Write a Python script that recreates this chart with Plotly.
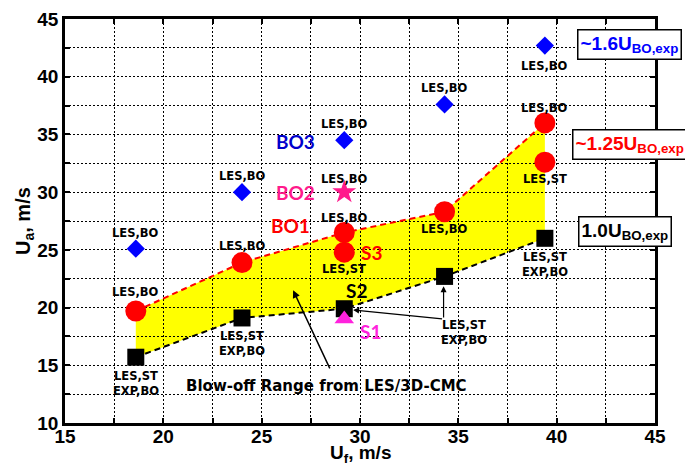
import plotly.graph_objects as go

# ---- data ----
uf_cases = [18.6, 24.0, 29.2, 34.3, 39.4]
ua_exp_bo = [15.7, 19.1, 19.9, 22.7, 26.0]          # black squares, 1.0 U_BO,exp
ua_les_bo_125 = [19.7, 23.9, 26.5, 28.3, 36.0]       # red circles (upper range)
uf_les_st_red = [29.2, 39.4]
ua_les_st_red = [24.8, 32.6]                         # red circles (stable)
ua_les_bo_16 = [25.1, 30.0, 34.5, 37.6, 42.7]        # blue diamonds
uf_bo2 = [29.2]
ua_bo2 = [30.0]                                      # pink star
uf_s1 = [29.2]
ua_s1 = [19.0]                                       # magenta triangle

x_ticks = [15, 17.5, 20, 22.5, 25, 27.5, 30, 32.5, 35, 37.5, 40, 42.5, 45]
x_ticktext = ["15", " ", "20", " ", "25", " ", "30", " ", "35", " ", "40", " ", "45"]
y_ticks = [10, 12.5, 15, 17.5, 20, 22.5, 25, 27.5, 30, 32.5, 35, 37.5, 40, 42.5, 45]
y_ticktext = ["10", " ", "15", " ", "20", " ", "25", " ", "30", " ", "35", " ", "40", " ", "45"]

RED = "#ff0000"
BLUE = "#0000ff"
PINK = "#ff1a8c"
MAGENTA = "#ff22dd"
LBL = dict(family="DejaVu Sans", size=11.5, color="black", weight="bold")
BIG = "Lato"

fig = go.Figure()

# yellow range polygon (upper red line then lower black line reversed)
px = uf_cases + uf_cases[::-1]
py = ua_les_bo_125 + ua_exp_bo[::-1]
path = "M " + " L ".join(f"{a},{b}" for a, b in zip(px, py)) + " Z"
fig.add_shape(type="path", path=path, xref="x", yref="y", fillcolor="#ffff00",
              line=dict(width=0), layer="below")

fig.add_trace(go.Scatter(x=uf_cases, y=ua_les_bo_125, mode="lines",
                         line=dict(color=RED, width=2, dash="6px,4px"), showlegend=False))
fig.add_trace(go.Scatter(x=uf_cases, y=ua_exp_bo, mode="lines",
                         line=dict(color="black", width=2, dash="6px,4px"), showlegend=False))

fig.add_trace(go.Scatter(x=uf_cases, y=ua_les_bo_16, mode="markers",
                         marker=dict(symbol="diamond", size=14, color=BLUE), showlegend=False))
fig.add_trace(go.Scatter(x=uf_cases, y=ua_les_bo_125, mode="markers",
                         marker=dict(symbol="circle", size=21, color=RED), showlegend=False))
fig.add_trace(go.Scatter(x=uf_les_st_red, y=ua_les_st_red, mode="markers",
                         marker=dict(symbol="circle", size=21, color=RED), showlegend=False))
fig.add_trace(go.Scatter(x=uf_cases, y=ua_exp_bo, mode="markers",
                         marker=dict(symbol="square", size=17, color="black"), showlegend=False))
fig.add_trace(go.Scatter(x=uf_s1, y=ua_s1, mode="markers",
                         marker=dict(symbol="triangle-up", size=17, color=MAGENTA), showlegend=False))
fig.add_trace(go.Scatter(x=uf_bo2, y=ua_bo2, mode="markers",
                         marker=dict(symbol="star", size=18, color=PINK), showlegend=False))

ann = []

def lab(x, y, text, shift):
    ann.append(dict(x=x, y=y, text=text, showarrow=False, yshift=shift, font=LBL))

for i, (x, y) in enumerate(zip(uf_cases, ua_les_bo_16)):
    lab(x, y, "LES,BO", -20 if i == 4 else 16)
up_shift = [19, 17, 15, None, 15]
for i, (x, y) in enumerate(zip(uf_cases, ua_les_bo_125)):
    lab(x, y, "LES,BO", -17 if up_shift[i] is None else up_shift[i])
for x, y in zip(uf_les_st_red, ua_les_st_red):
    lab(x, y, "LES,ST", -17)
lab(uf_bo2[0], ua_bo2[0], "LES,BO", 13)
for i in (0, 1, 4):
    lab(uf_cases[i], ua_exp_bo[i], "LES,ST<br>EXP,BO", -26)

# shared label with two arrows
ann.append(dict(x=35.3, y=17.8, text="LES,ST<br>EXP,BO", showarrow=False, font=LBL))
for hx, hy in [(uf_cases[3] - 0.05, ua_exp_bo[3] - 0.85), (uf_cases[2] + 0.45, ua_exp_bo[2] - 0.1)]:
    ann.append(dict(x=hx, y=hy, ax=34.25, ay=19.0, axref="x", ayref="y", xref="x", yref="y",
                    text="", showarrow=True, arrowhead=2, arrowsize=1, arrowwidth=1.2,
                    arrowcolor="black"))

# blow-off arrow and text
ann.append(dict(x=26.6, y=21.5, ax=28.5, ay=14.6, axref="x", ayref="y", text="",
                showarrow=True, arrowhead=2, arrowsize=1, arrowwidth=1.5, arrowcolor="black"))
ann.append(dict(x=28.3, y=13.2, text="Blow-off Range from LES/3D-CMC", showarrow=False,
                font=dict(family="DejaVu Sans", size=15, color="black", weight="bold")))

# case names
for txt, x, y, c in [("BO3", 26.7, 34.35, "#0000cc"), ("BO2", 26.7, 30.0, PINK),
                     ("BO1", 26.45, 27.1, RED), ("S3", 30.6, 24.8, RED),
                     ("S2", 29.8, 21.5, "black"), ("S1", 30.55, 17.9, MAGENTA)]:
    ann.append(dict(x=x, y=y, text=txt, showarrow=False,
                    font=dict(family=BIG, size=19, color=c, weight="bold")))

# boxes on the right
for txt, x, y, c in [("~1.6U<sub>BO,exp</sub>", 43.72, 42.75, BLUE),
                     ("~1.25U<sub>BO,exp</sub>", 43.72, 34.1, RED),
                     ("1.0U<sub>BO,exp</sub>", 43.47, 26.55, "black")]:
    ann.append(dict(x=x, y=y, text=txt, showarrow=False, bgcolor="white",
                    bordercolor="black", borderwidth=1.5, borderpad=2,
                    font=dict(family="Liberation Sans", size=19, color=c, weight="bold")))

# axis titles
TF = dict(family="Liberation Sans", size=19, color="black", weight="bold")
ann.append(dict(x=0.5, y=0.0, xref="paper", yref="paper", xanchor="center", yanchor="middle",
                yshift=-31, showarrow=False, text="U<sub>f</sub>, m/s", font=TF))
ann.append(dict(x=0.0, y=0.5, xref="paper", yref="paper", xanchor="center", yanchor="middle",
                xshift=-41, showarrow=False, text="U<sub>a</sub>, m/s", textangle=-90,
                font=dict(TF, size=20)))

axis_common = dict(showline=True, linewidth=2.5, linecolor="black", mirror="ticks",
                   ticks="inside", ticklen=5, tickwidth=2, tickcolor="black",
                   showgrid=True, gridcolor="black", gridwidth=1, griddash="2px,2px",
                   zeroline=False, automargin=False,
                   tickfont=dict(family="Liberation Sans", size=19, color="black", weight="bold"))

fig.update_xaxes(range=[15, 45], tickmode="array", tickvals=x_ticks, ticktext=x_ticktext,
                 ticklabelstandoff=-6, **axis_common)
fig.update_yaxes(range=[10, 45], tickmode="array", tickvals=y_ticks, ticktext=y_ticktext,
                 ticklabelstandoff=0, **axis_common)

# page body adds an 8px offset, so margins compensate for it
fig.update_layout(width=693, height=465, margin=dict(l=57, r=46, t=11, b=50),
                  plot_bgcolor="white", paper_bgcolor="white", annotations=ann,
                  showlegend=False)

fig.write_html("out.html")
